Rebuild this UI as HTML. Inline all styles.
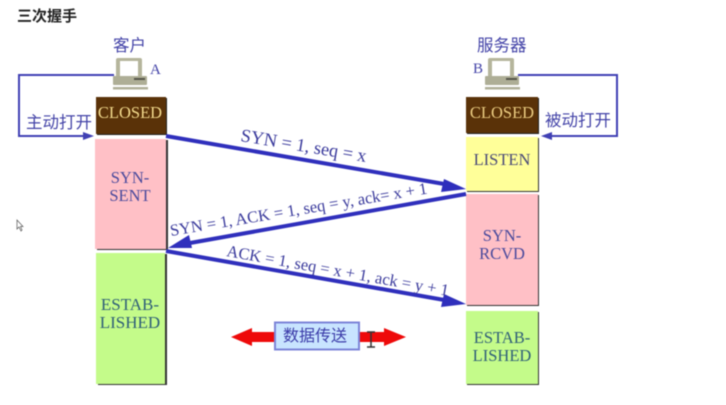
<!DOCTYPE html>
<html><head><meta charset="utf-8"><style>
html,body{margin:0;padding:0;background:#fff}
svg{display:block;filter:blur(.45px)}
text{font-family:"Liberation Serif","Noto Serif CJK SC",serif}
.cj{font-family:"Liberation Sans","Noto Sans CJK SC",sans-serif;fill:#4444a8}
.s{fill:#4a4a9c;font-size:16.500px;text-anchor:middle}
.l{fill:#3a3a9c;font-size:16.500px}
</style></head><body>
<svg width="726" height="405" viewBox="0 0 726 405" xmlns="http://www.w3.org/2000/svg">
<rect width="726" height="405" fill="#fff"/>
<text x="17" y="21" class="cj" style="fill:#222;font-size:15px;font-weight:bold">三次握手</text>
<text x="113" y="51" class="cj" style="font-size:16.500px">客户</text>
<text x="477" y="51" class="cj" style="font-size:16.500px">服务器</text>
<text x="150" y="74" fill="#4444a8" font-size="15">A</text>
<text x="473" y="73" fill="#4444a8" font-size="15">B</text>
<g id="pc">
<rect x="116" y="58" width="26" height="24" rx="2" fill="#b5b59c"/>
<rect x="120" y="61" width="18" height="15" fill="#fff"/>
<rect x="113" y="76" width="34" height="9" rx="1" fill="#aeae96"/>
<rect x="134" y="78" width="11" height="2" fill="#55554a"/>
<rect x="113" y="87" width="35" height="2.500" fill="#b0b09a"/>
</g>
<use href="#pc" x="372" y="0"/>
<g fill="none" stroke="#4040b4" stroke-width="2">
<path d="M114 75H19V136H85"/>
<path d="M518 75H617V136H550"/>
</g>
<path d="M94 136L83 132V140Z" fill="#4040b4"/>
<path d="M541 136L552 132V140Z" fill="#4040b4"/>
<text x="26" y="128" class="cj" style="font-size:16.500px">主动打开</text>
<text x="545" y="126" class="cj" style="font-size:16.500px">被动打开</text>
<!-- left column -->
<rect x="97" y="98" width="70" height="37" fill="#222"/>
<rect x="96" y="97" width="70" height="37" fill="#5a3208"/>
<rect x="97" y="140" width="71" height="110" fill="#333"/>
<rect x="95" y="139" width="71" height="110" fill="#ffc0c6"/>
<rect x="98" y="254" width="69" height="131" fill="#333"/>
<rect x="96" y="253" width="69" height="131" fill="#c4fb8a"/>
<!-- right column -->
<rect x="467" y="98" width="72" height="36" fill="#222"/>
<rect x="466" y="97" width="72" height="36" fill="#5a3208"/>
<rect x="467" y="138" width="72" height="54" fill="#333"/>
<rect x="466" y="137" width="72" height="54" fill="#ffff99"/>
<rect x="467" y="195" width="72" height="111" fill="#333"/>
<rect x="466" y="194" width="72" height="111" fill="#ffc0c6"/>
<rect x="467" y="312" width="72" height="73" fill="#333"/>
<rect x="466" y="311" width="72" height="73" fill="#c4fb8a"/>
<text x="130" y="118" class="s" style="fill:#f2d98c">CLOSED</text>
<text x="502" y="118" class="s" style="fill:#eacb80">CLOSED</text>
<text x="130" y="183" class="s">SYN-</text>
<text x="130" y="201" class="s">SENT</text>
<text x="502" y="165" class="s" style="fill:#4a4a78">LISTEN</text>
<text x="502" y="241" class="s">SYN-</text>
<text x="502" y="259" class="s">RCVD</text>
<text x="130" y="310" class="s" style="fill:#2f5f78;font-size:17px">ESTAB-</text>
<text x="130" y="328" class="s" style="fill:#2f5f78;font-size:17px">LISHED</text>
<text x="502" y="343" class="s" style="fill:#2f5f78">ESTAB-</text>
<text x="502" y="361" class="s" style="fill:#2f5f78">LISHED</text>
<!-- message arrows -->
<g stroke="#2f2fbc" stroke-width="4" fill="#2f2fbc">
<path d="M166 136L450 185"/>
<path d="M466 194L190 243"/>
<path d="M166 251L450 301"/>
</g>
<g fill="#2f2fbc">
<path d="M466 189L444 179L441 192Z"/>
<path d="M168 248L189 235L192 248Z"/>
<path d="M466 304L444 294L441 307Z"/>
</g>
<text transform="translate(240 141) rotate(9.500)" class="l" style="font-size:18.300px">SYN = 1, seq = x</text>
<text transform="translate(171 236) rotate(-9.400)" class="l">SYN = 1, ACK = 1, seq = y, ack= x + 1</text>
<text transform="translate(226 256) rotate(10.200)" class="l">ACK = 1, seq = x + 1, ack = y + 1</text>
<!-- data transfer -->
<path d="M231 337L252 328V332H384V328L406 337L384 346V342H252V346Z" fill="#ee0a0a"/>
<rect x="275" y="322.500" width="84" height="27" fill="#c8e4ff" stroke="#7c84d8" stroke-width="2"/>
<text x="283" y="341" class="cj" style="font-size:16px;fill:#3a3aa8">数据传送</text>
<path d="M367 332H375M371 332V347M367 347H375" stroke="#333" stroke-width="1.500" fill="none"/>
<path d="M17 220V229L19 227L21 231L22 230L20.500 226.500H23Z" fill="#fff" stroke="#555" stroke-width=".7"/>
</svg>
</body></html>
